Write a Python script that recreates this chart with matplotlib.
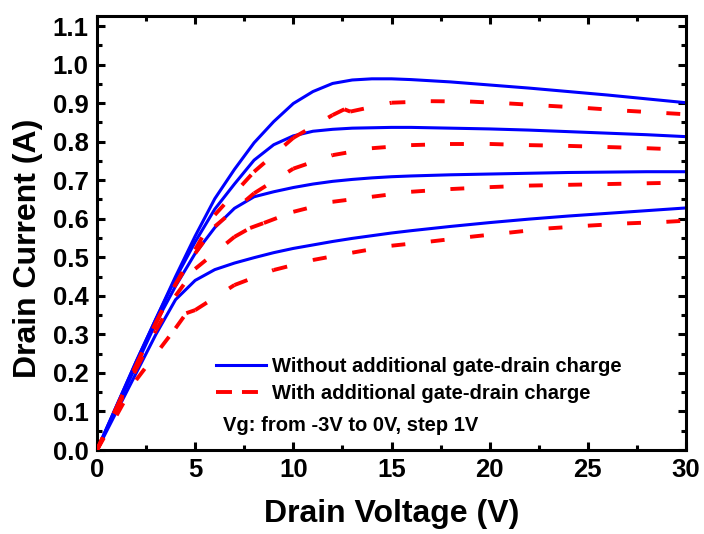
import matplotlib
matplotlib.use("Agg")
import matplotlib.pyplot as plt
from matplotlib.lines import Line2D
from matplotlib.ticker import MultipleLocator, FormatStrFormatter

plt.rcParams["font.family"] = ["Liberation Sans", "DejaVu Sans"]
plt.rcParams["font.weight"] = "bold"
plt.rcParams["lines.scale_dashes"] = False

# Output characteristics, Vg = 0, -1, -2, -3 V (top to bottom)
# Without additional gate-drain charge
vd_blue = [0, 1, 2, 3, 4, 5, 6, 7, 8, 9, 10, 11, 12, 13, 14, 15, 16, 18, 20, 22, 24, 26, 28, 30]
id_blue_vg0 = [0, 0.115, 0.23, 0.34, 0.45, 0.555, 0.652, 0.728, 0.797, 0.852, 0.899, 0.930, 0.951,
               0.960, 0.963, 0.963, 0.961, 0.955, 0.947, 0.939, 0.930, 0.921, 0.911, 0.901]
id_blue_vgm1 = [0, 0.115, 0.23, 0.34, 0.445, 0.54, 0.625, 0.69, 0.752, 0.792, 0.815, 0.827, 0.832,
                0.835, 0.836, 0.837, 0.837, 0.835, 0.833, 0.830, 0.826, 0.822, 0.818, 0.813]
id_blue_vgm2 = [0, 0.11, 0.22, 0.33, 0.425, 0.51, 0.577, 0.627, 0.657, 0.670, 0.681, 0.690, 0.697,
                0.702, 0.706, 0.709, 0.711, 0.714, 0.716, 0.718, 0.720, 0.721, 0.722, 0.722]
id_blue_vgm3 = [0, 0.10, 0.20, 0.30, 0.39, 0.44, 0.468, 0.485, 0.499, 0.512, 0.523, 0.532, 0.541,
                0.549, 0.556, 0.563, 0.569, 0.580, 0.590, 0.599, 0.607, 0.614, 0.621, 0.628]

# With additional gate-drain charge
vd_red_vg0 = [0, 1, 2, 3, 4, 5, 6, 8, 10, 12, 12.6, 12.9, 15, 17, 19, 21, 23, 25, 27, 29, 30]
id_red_vg0 = [0, 0.11, 0.22, 0.33, 0.43, 0.52, 0.61, 0.722, 0.81, 0.869, 0.884, 0.878, 0.901,
              0.905, 0.904, 0.899, 0.893, 0.887, 0.880, 0.874, 0.871]
vd_red_vgm1 = [0, 1, 2, 3, 4, 5, 6, 8, 10, 12, 14, 16, 18, 20, 22, 24, 26, 28, 30]
id_red_vgm1 = [0, 0.11, 0.22, 0.33, 0.43, 0.51, 0.58, 0.666, 0.73, 0.765, 0.783, 0.791, 0.794,
               0.794, 0.791, 0.789, 0.786, 0.783, 0.779]
vd_red_vgm2 = [0, 1, 2, 3, 4, 5, 7, 7.8, 8.5, 10, 12, 14, 16, 18, 20, 22, 24, 26, 28, 30]
id_red_vgm2 = [0, 0.105, 0.21, 0.31, 0.40, 0.47, 0.553, 0.576, 0.589, 0.618, 0.644, 0.657, 0.670,
               0.677, 0.682, 0.686, 0.688, 0.690, 0.692, 0.694]
vd_red_vgm3 = [0, 1, 2, 4, 4.55, 5, 7, 9, 11, 13, 15, 17, 19, 21, 23, 25, 27, 29, 30]
id_red_vgm3 = [0, 0.09, 0.182, 0.316, 0.355, 0.363, 0.428, 0.467, 0.493, 0.512, 0.530, 0.541,
               0.553, 0.564, 0.575, 0.582, 0.588, 0.592, 0.595]

x_ticks = [0, 5, 10, 15, 20, 25, 30]
y_ticks = [0.0, 0.1, 0.2, 0.3, 0.4, 0.5, 0.6, 0.7, 0.8, 0.9, 1.0, 1.1]

label_blue = "Without additional gate-drain charge"
label_red = "With additional gate-drain charge"
note = "Vg: from -3V to 0V, step 1V"

BLUE = "#0000ff"
RED = "#ff0000"

fig = plt.figure(figsize=(7.04, 5.34), dpi=100)
ax = fig.add_axes([97 / 704, 1 - 450 / 534, (686 - 97) / 704, (450 - 16) / 534])

for ids in (id_blue_vg0, id_blue_vgm1, id_blue_vgm2, id_blue_vgm3):
    ax.plot(vd_blue, ids, color=BLUE, lw=2.2, solid_joinstyle="round", zorder=2)

# dashed curves: the dash pattern restarts at every data point
red_sets = [(vd_red_vg0, id_red_vg0), (vd_red_vgm1, id_red_vgm1),
            (vd_red_vgm2, id_red_vgm2), (vd_red_vgm3, id_red_vgm3)]
for vds, ids in red_sets:
    for i in range(len(vds) - 1):
        ax.plot(vds[i:i + 2], ids[i:i + 2], color=RED, lw=2.8, dashes=(10, 19),
                dash_capstyle="butt", zorder=3)

ax.set_xlim(0, 30)
ax.set_ylim(0, 1.126)
ax.set_xticks(x_ticks)
ax.set_yticks(y_ticks)
ax.xaxis.set_minor_locator(MultipleLocator(2.5))
ax.yaxis.set_minor_locator(MultipleLocator(0.05))
ax.xaxis.set_major_formatter(FormatStrFormatter("%d"))
ax.yaxis.set_major_formatter(FormatStrFormatter("%.1f"))

for sp in ax.spines.values():
    sp.set_linewidth(2.2)
ax.tick_params(which="both", direction="in", top=True, right=True, width=2.2,
               labelsize=18.5, pad=6)
ax.tick_params(which="major", length=6)
ax.tick_params(which="minor", length=3.6)
for lab in ax.get_xticklabels() + ax.get_yticklabels():
    lab.set_fontweight("bold")

ax.set_xlabel("Drain Voltage (V)", fontsize=23, fontweight="bold", va="center")
ax.xaxis.set_label_coords(0.5, -0.148)
ax.set_ylabel("Drain Current (A)", fontsize=23, fontweight="bold", va="center")
ax.yaxis.set_label_coords(-0.117, 0.465)

handles = [
    Line2D([], [], color=BLUE, lw=2.2),
    Line2D([], [], color=RED, lw=2.8, dashes=(11.5, 7.2), dash_capstyle="butt"),
]
ax.legend(handles, [label_blue, label_red], loc="center left",
          bbox_to_anchor=(0.202, 0.161), frameon=False, borderpad=0, borderaxespad=0,
          handlelength=2.5, handletextpad=0.3, labelspacing=0.4,
          prop={"size": 14.5, "weight": "bold"})
ax.text(0.214, 0.0576, note, transform=ax.transAxes, fontsize=14.5, fontweight="bold",
        ha="left", va="center")

fig.savefig("out.png", dpi=100)
